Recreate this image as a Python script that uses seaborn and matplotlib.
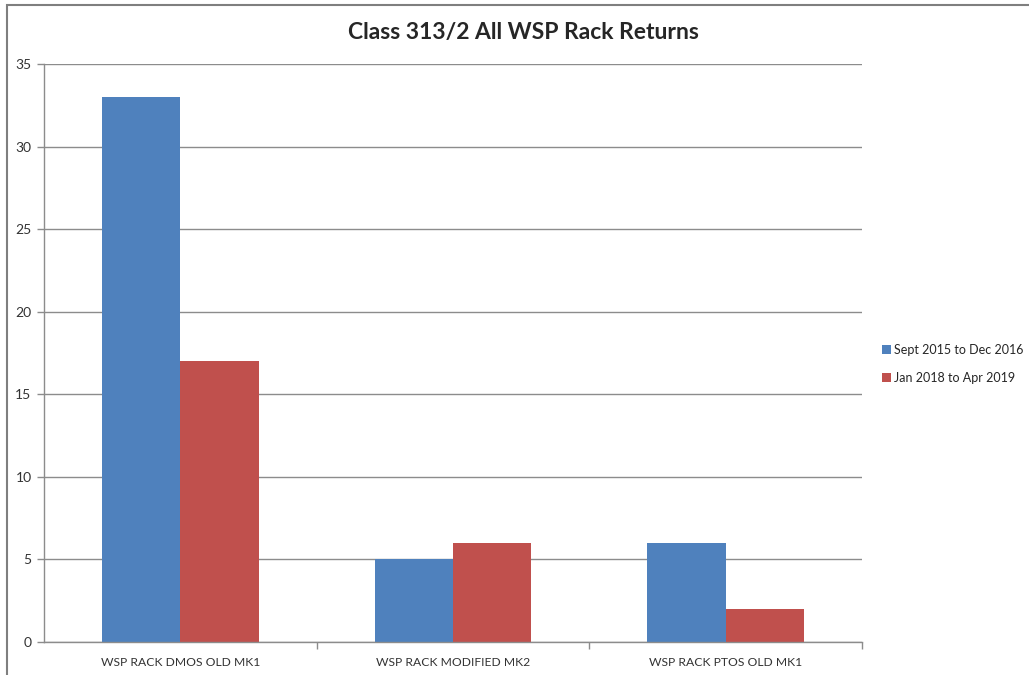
import pandas as pd
import matplotlib.pyplot as plt
import seaborn as sns
from matplotlib.patches import Rectangle

# data
categories = ['WSP RACK DMOS OLD MK1', 'WSP RACK MODIFIED MK2', 'WSP RACK PTOS OLD MK1']
period_2015 = [33, 5, 6]
period_2018 = [17, 6, 2]
series_names = ['Sept 2015 to Dec 2016', 'Jan 2018 to Apr 2019']
colors = ['#4F81BD', '#C0504D']

df = pd.DataFrame({
    'category': categories * 2,
    'value': period_2015 + period_2018,
    'series': [series_names[0]] * 3 + [series_names[1]] * 3,
})

sns.set_style('white')
plt.rcParams['font.family'] = ['Lato', 'DejaVu Sans']

fig = plt.figure(figsize=(10.29, 6.75), dpi=100)
ax = fig.add_axes([44 / 1029, 33 / 675, 818 / 1029, 578 / 675])

sns.barplot(data=df, x='category', y='value', hue='series', palette=colors,
            width=0.574, saturation=1, linewidth=0, ax=ax, legend=True)

grid_c = '#8C8C8C'
ax.set_ylim(0, 35)
ax.set_xlim(-0.5, 2.5)
ax.set_yticks(range(0, 36, 5))
ax.yaxis.grid(True, color=grid_c, linewidth=1)
ax.set_axisbelow(True)
for s in ['top', 'right']:
    ax.spines[s].set_visible(False)
for s in ['left', 'bottom']:
    ax.spines[s].set_color(grid_c)
    ax.spines[s].set_linewidth(1)
ax.set_xlabel('')
ax.set_ylabel('')

# y ticks outward, x ticks at category boundaries
ax.tick_params(axis='y', length=5, width=1, color=grid_c, labelsize=10, pad=4,
               left=True, labelcolor='#333333')
ax.set_xticks([0, 1, 2])
ax.set_xticks([0.5, 1.5, 2.5], minor=True)
ax.tick_params(axis='x', which='major', length=0, labelsize=8.7, pad=11, labelcolor='#333333')
ax.tick_params(axis='x', which='minor', length=5, width=1, color=grid_c, bottom=True)

fig.suptitle('Class 313/2 All WSP Rack Returns', x=523 / 1029, y=1 - 32 / 675,
             va='center', fontsize=16.5, fontweight='bold')

ax.legend(loc='center left', bbox_to_anchor=(882 / 1029, 1 - 364 / 675),
          bbox_transform=fig.transFigure, frameon=False, fontsize=9,
          handlelength=0.7, handleheight=0.7, handletextpad=0.3, labelspacing=1.3,
          borderaxespad=0, borderpad=0)

# outer chart frame (clipped at right and bottom in the reference)
fig.patches.append(Rectangle((7 / 1029, -0.1), 1.2, 1 - 5 / 675 + 0.1,
                             transform=fig.transFigure, fill=False,
                             edgecolor='#7F7F7F', linewidth=1.5))

fig.savefig('out.png', dpi=100)
